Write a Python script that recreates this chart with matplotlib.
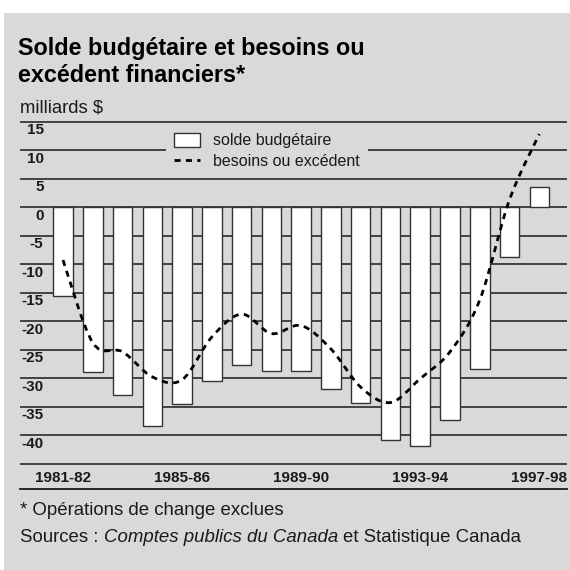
import numpy as np
import matplotlib
matplotlib.use('Agg')
import matplotlib.pyplot as plt
from matplotlib.path import Path
from matplotlib.patches import PathPatch, Rectangle, Patch
from matplotlib.lines import Line2D
import matplotlib.transforms as mtransforms

plt.rcParams['font.family'] = ['Liberation Sans', 'DejaVu Sans']

# ---------------- data ----------------
years = ['1981-82', '1982-83', '1983-84', '1984-85', '1985-86', '1986-87',
         '1987-88', '1988-89', '1989-90', '1990-91', '1991-92', '1992-93',
         '1993-94', '1994-95', '1995-96', '1996-97', '1997-98']
solde = [-15.6, -28.9, -32.9, -38.4, -34.5, -30.6, -27.7, -28.7, -28.8,
         -31.9, -34.3, -40.9, -41.9, -37.4, -28.5, -8.8, 3.5]
besoins = [-9.3, -23.8, -25.4, -29.8, -30.3, -22.8, -18.8, -22.2, -20.8,
           -24.9, -31.6, -34.3, -30.1, -25.4, -16.3, 1.3, 12.8]
ytick_values = [15, 10, 5, 0, -5, -10, -15, -20, -25, -30, -35, -40]
xtick_labels = ['1981-82', '1985-86', '1989-90', '1993-94', '1997-98']

title_lines = ['Solde budgétaire et besoins ou', 'excédent financiers*']
unit_label = 'milliards $'
legend_labels = ['solde budgétaire', 'besoins ou excédent']
note = '* Opérations de change exclues'

# ---------------- figure ----------------
W = H = 570
fig = plt.figure(figsize=(5.7, 5.7), dpi=100)
fig.patch.set_facecolor('white')
BG = '#d9d9d9'
INK = '#1a1a1a'


def fx(px):
    return px / W


def fy(py):
    return 1 - py / H


fig.patches.append(Rectangle((fx(4), 0), 1 - fx(4), fy(13), transform=fig.transFigure,
                             facecolor=BG, edgecolor='none', zorder=-10))

ymin, ymax = -49.47, 16.67
ax = fig.add_axes([fx(20), fy(489), fx(567) - fx(20), (489 - 112) / H])
ax.set_zorder(1)
ax.set_axis_off()
ax.set_xlim(-1.444, 16.93)
ax.set_ylim(ymin, ymax)

# gridlines
for v in range(15, -50, -5):
    ax.axhline(v, color=INK, lw=1.1, zorder=1)
ax.axhline(ymin, color=INK, lw=1.3, zorder=1, clip_on=False)

# bars
xpos = np.arange(len(years))
ax.bar(xpos, solde, width=0.655, color='white', edgecolor='#333333',
       linewidth=1.0, zorder=3)

# smooth dashed curve through the data points (Catmull-Rom as cubic Bezier)
xs = xpos.astype(float)
ys = np.asarray(besoins, dtype=float)
verts = [(xs[0], ys[0])]
codes = [Path.MOVETO]
n = len(xs)
for i in range(n - 1):
    p0 = i - 1 if i > 0 else i
    p3 = i + 2 if i + 2 < n else i + 1
    c1 = (xs[i] + (xs[i + 1] - xs[p0]) / 6, ys[i] + (ys[i + 1] - ys[p0]) / 6)
    c2 = (xs[i + 1] - (xs[p3] - xs[i]) / 6, ys[i + 1] - (ys[p3] - ys[i]) / 6)
    verts += [c1, c2, (xs[i + 1], ys[i + 1])]
    codes += [Path.CURVE4] * 3
DASH = (0, (2.2, 1.9))
ax.add_patch(PathPatch(Path(verts, codes), fill=False, edgecolor='black',
                       lw=2.0, linestyle=DASH, zorder=4, capstyle='butt'))

# y tick labels (below their gridlines)
ytr = mtransforms.offset_copy(ax.get_yaxis_transform(), fig=fig, x=0, y=-12.5, units='dots')
for v in ytick_values:
    ax.text((43.5 - 20) / 547, v, str(v), transform=ytr, ha='right', va='baseline',
            fontsize=11, fontweight='bold', color=INK)

# x labels
for lab in xtick_labels:
    ax.text(years.index(lab), (207 - 481.7) / 5.7, lab, ha='center', va='baseline',
            fontsize=11, fontweight='bold', color=INK)

# legend
handles = [Patch(facecolor='white', edgecolor='#333333', linewidth=1.0),
           Line2D([0], [0], color='black', lw=2.0, linestyle=DASH)]
leg = ax.legend(handles, legend_labels, loc='upper left',
                bbox_to_anchor=(fx(166), fy(125)), bbox_transform=fig.transFigure,
                fontsize=11.5, frameon=True, facecolor=BG, edgecolor='none',
                framealpha=1, fancybox=False, borderaxespad=0, borderpad=0.5,
                handlelength=1.63, handleheight=0.94, handletextpad=0.8,
                labelspacing=0.35)
for t in leg.get_texts():
    t.set_color(INK)

# titles and notes
fig.text(fx(18), fy(55), title_lines[0], fontsize=16.8, fontweight='bold',
         va='baseline', ha='left', color='black')
fig.text(fx(18), fy(81.7), title_lines[1], fontsize=16.8, fontweight='bold',
         va='baseline', ha='left', color='black')
fig.text(fx(20), fy(112.5), unit_label, fontsize=13.3, va='baseline', ha='left', color=INK)
fig.text(fx(20), fy(515), note, fontsize=13.4, va='baseline', ha='left', color=INK)

renderer = fig.canvas.get_renderer()
fs = 13.4
space_px = 0.278 * fs * 100 / 72
parts = [('Sources :', 'normal'), ('Comptes publics du Canada', 'italic'),
         ('et Statistique Canada', 'normal')]
xcur = 20
for s, style in parts:
    t = fig.text(fx(xcur), fy(541.7), s, fontsize=fs, style=style, va='baseline',
                 ha='left', color=INK)
    bb = t.get_window_extent(renderer)
    xcur = bb.x1 + space_px

fig.savefig('out.png', dpi=100, facecolor=fig.get_facecolor())
